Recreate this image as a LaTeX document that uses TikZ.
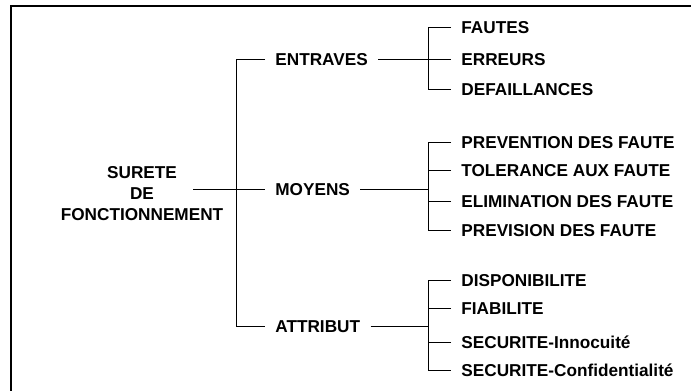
\documentclass[tikz,border=0pt]{standalone}
\usepackage{fontspec}
\setmainfont{Liberation Sans}

\begin{document}
\begin{tikzpicture}[x=0.5pt, y=-0.5pt,
		lbl/.style={anchor=west, inner xsep=5pt, inner ysep=0pt, text height=6.2pt, text depth=0pt, font=\fontsize{8.6}{10.5}\selectfont\bfseries},
		link/.style={line width=0.5pt}]
		\useasboundingbox (0,0) rectangle (691,391);
		\draw[line width=1pt] (11,391) -- (11,6) -- (691,6);
		\node[align=center, inner sep=0pt, font=\fontsize{8.6}{10.5}\selectfont\bfseries] (surete) at (142,193.5) {SURETE\\DE\hspace*{20.5pt}\\FONCTIONNEMENT};
		\coordinate (sureteout) at (193,189);
		\node[lbl] (entraves) at (265,59) {ENTRAVES};
		\node[lbl] (moyens) at (265,189) {MOYENS};
		\node[lbl] (attribut) at (265,326) {ATTRIBUT};
		\node[lbl] (fautes) at (451,27) {FAUTES};
		\node[lbl] (erreurs) at (451,59) {ERREURS};
		\node[lbl] (defaillances) at (451,89) {DEFAILLANCES};
		\node[lbl] (prevention) at (451,142) {PREVENTION DES FAUTE};
		\node[lbl] (tolerance) at (451,170) {TOLERANCE AUX FAUTE};
		\node[lbl] (elimination) at (451,201) {ELIMINATION DES FAUTE};
		\node[lbl] (prevision) at (451,230) {PREVISION DES FAUTE};
		\node[lbl] (disponibilite) at (451,280) {DISPONIBILITE};
		\node[lbl] (fiabilite) at (451,308) {FIABILITE};
		\node[lbl] (innocuite) at (451,342) {SECURITE-Innocuité};
		\node[lbl] (confidentialite) at (451,370) {SECURITE-Confidentialité};
		\draw[link] (sureteout) -- (moyens.west);
		\draw[link] (entraves.west) -- ++(-29,0) |- (attribut.west);
		\draw[link] (fautes.west) -- ++(-23,0) coordinate (etrunk) |- (defaillances.west);
		\draw[link] (entraves.east) -- (erreurs.west);
		\draw[link] (prevention.west) -- ++(-23,0) coordinate (mtrunk) |- (prevision.west);
		\draw[link] (moyens.east) -- (moyens.east -| mtrunk);
		\foreach \n in {tolerance, elimination}
			\draw[link] (\n.west) -- (\n.west -| mtrunk);
		\draw[link] (disponibilite.west) -- ++(-23,0) coordinate (atrunk) |- (confidentialite.west);
		\draw[link] (attribut.east) -- (attribut.east -| atrunk);
		\foreach \n in {fiabilite, innocuite}
			\draw[link] (\n.west) -- (\n.west -| atrunk);
	\end{tikzpicture}
\end{document}
